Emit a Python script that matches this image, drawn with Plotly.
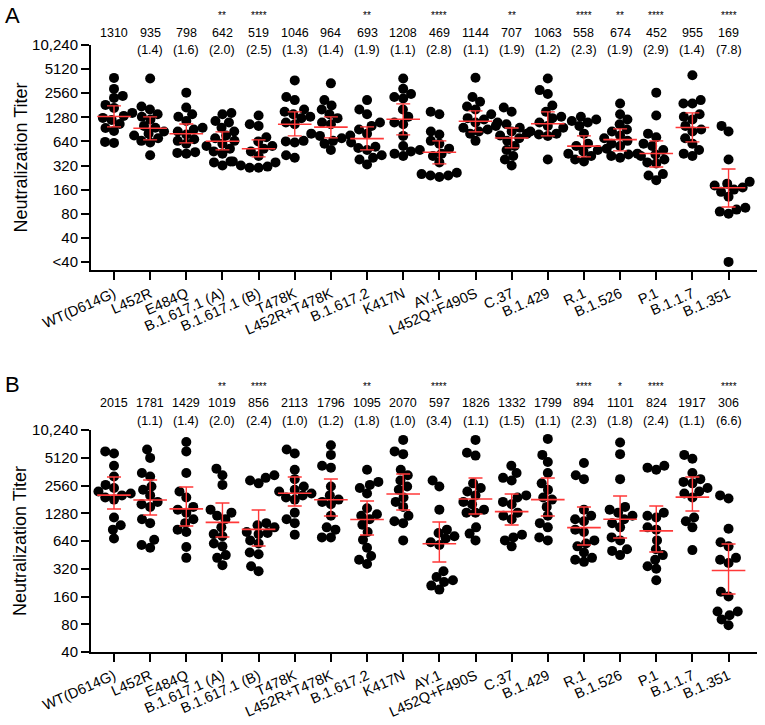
import numpy as np
import plotly.graph_objects as go

W, H = 765, 725

categories = ["WT(D614G)", "L452R", "E484Q", "B.1.617.1 (A)", "B.1.617.1 (B)", "T478K",
              "L452R+T478K", "B.1.617.2", "K417N", "AY.1", "L452Q+F490S", "C.37",
              "B.1.429", "R.1", "B.1.526", "P.1", "B.1.1.7", "B.1.351"]

# ---------------- Panel A ----------------
a_gmt = [1310, 935, 798, 642, 519, 1046, 964, 693, 1208, 469, 1144, 707, 1063, 558, 674, 452, 955, 169]
a_fold = ["", "(1.4)", "(1.6)", "(2.0)", "(2.5)", "(1.3)", "(1.4)", "(1.9)", "(1.1)", "(2.8)",
          "(1.1)", "(1.9)", "(1.2)", "(2.3)", "(1.9)", "(2.9)", "(1.4)", "(7.8)"]
a_sig = ["", "", "", "**", "****", "", "", "**", "", "****", "", "**", "", "****", "**", "****", "", "****"]
a_ci_lo = [971, 668, 613, 502, 410, 750, 708, 502, 772, 335, 841, 531, 750, 410, 487, 307, 631, 97]
a_ci_hi = [1777, 1296, 1058, 841, 668, 1495, 1296, 971, 1882, 649, 1539, 943, 1495, 750, 917, 649, 1453, 290]
a_points = [
    [3976, 2898, 2369, 2236, 1829, 1678, 1453, 1333, 1258, 1188, 1058, 943, 866, 631, 613],
    [3900, 1750, 1600, 1400, 1300, 1200, 1000, 950, 850, 800, 760, 700, 650, 620, 430],
    [2600, 1700, 1400, 1300, 1150, 950, 900, 850, 780, 680, 650, 600, 470, 460, 450],
    [1450, 1400, 1150, 1100, 950, 850, 760, 700, 650, 600, 560, 520, 480, 450, 360, 350, 320],
    [1350, 1050, 1000, 720, 640, 560, 520, 480, 420, 360, 350, 320, 310, 300, 300],
    [3700, 2300, 2100, 1600, 1500, 1400, 1300, 1250, 1100, 1050, 650, 640, 620, 430, 400],
    [3400, 2100, 1800, 1600, 1400, 1250, 1100, 1050, 800, 760, 750, 700, 650, 600, 500],
    [2100, 1600, 1400, 1100, 1000, 900, 800, 620, 550, 530, 500, 430, 400, 380, 330],
    [3900, 2900, 2500, 2300, 2200, 1600, 1300, 1100, 1050, 750, 560, 500, 480, 450, 420],
    [1500, 1400, 850, 780, 650, 600, 520, 450, 420, 350, 260, 250, 240, 240, 230],
    [4000, 2300, 2000, 1750, 1600, 1400, 1250, 1200, 1100, 1000, 950, 900, 850, 800, 650],
    [1700, 1500, 1100, 1050, 950, 850, 800, 760, 700, 650, 560, 500, 420, 380, 320],
    [3900, 2800, 2500, 1800, 1500, 1300, 1250, 1100, 1000, 950, 850, 800, 780, 750, 380],
    [1300, 1200, 1150, 1100, 1000, 800, 600, 560, 520, 500, 480, 450, 420, 380, 360],
    [1900, 1400, 1200, 1050, 900, 850, 760, 700, 650, 600, 560, 450, 440, 420, 400],
    [2600, 1350, 800, 720, 600, 560, 500, 440, 420, 380, 350, 340, 250, 240, 210],
    [4300, 2100, 1900, 1900, 1400, 1300, 1200, 1000, 900, 850, 700, 600, 500, 450, 420],
    [1000, 850, 380, 200, 190, 180, 170, 160, 150, 130, 95, 90, 85, 80, 20],
]
a_tickvals = [20, 40, 80, 160, 320, 640, 1280, 2560, 5120, 10240]
a_ticktext = ["<40", "40", "80", "160", "320", "640", "1280", "2560", "5120", "10,240"]

# ---------------- Panel B ----------------
b_gmt = [2015, 1781, 1429, 1019, 856, 2113, 1796, 1095, 2070, 597, 1826, 1332, 1799, 894, 1101, 824, 1917, 306]
b_fold = ["", "(1.1)", "(1.4)", "(2.0)", "(2.4)", "(1.0)", "(1.2)", "(1.8)", "(1.0)", "(3.4)",
          "(1.1)", "(1.5)", "(1.1)", "(2.3)", "(1.8)", "(2.4)", "(1.1)", "(6.6)"]
b_sig = ["", "", "", "**", "****", "", "", "**", "", "****", "", "", "", "****", "*", "****", "", "****"]
b_ci_lo = [1424, 1226, 931, 707, 565, 1535, 1195, 743, 1388, 379, 1256, 954, 1195, 579, 690, 486, 1354, 170]
b_ci_hi = [3165, 2937, 2466, 1653, 1388, 3165, 3011, 1738, 3411, 1029, 3088, 2071, 3088, 1496, 1970, 1535, 3165, 594]
b_points = [
    [6000, 5700, 4200, 3200, 2600, 2400, 2200, 2100, 2000, 1900, 1800, 1150, 950, 850, 680],
    [6300, 5100, 3500, 3200, 2500, 2300, 2000, 1700, 1600, 1500, 1100, 1000, 660, 580, 540],
    [7600, 6000, 3500, 2200, 1900, 1500, 1400, 1300, 1100, 1000, 850, 800, 550, 420],
    [3900, 3300, 2600, 1400, 1300, 1200, 1100, 900, 760, 720, 600, 560, 450, 420, 350],
    [3300, 3100, 2900, 2700, 1000, 950, 900, 800, 780, 760, 650, 600, 480, 460, 340, 300],
    [6300, 5700, 3800, 3000, 2500, 2300, 2200, 2100, 2000, 1900, 1800, 1300, 1100, 1000, 750],
    [7000, 5500, 4200, 4000, 2500, 2000, 1800, 1700, 1600, 1200, 900, 850, 700, 700],
    [3800, 2800, 2600, 2400, 2100, 1450, 1250, 1200, 1100, 960, 800, 660, 540, 440, 400, 360],
    [8000, 6000, 5600, 3800, 3300, 2900, 2500, 2300, 1900, 1700, 1500, 1200, 1050, 1000, 650],
    [2900, 2500, 1400, 850, 780, 720, 680, 620, 580, 300, 260, 240, 230, 210, 190],
    [8000, 5800, 5400, 2700, 2400, 2200, 2000, 1700, 1600, 1400, 1300, 1300, 900, 770, 650],
    [4200, 3500, 3100, 2900, 2000, 1900, 1700, 1600, 1300, 1200, 1100, 750, 700, 650, 560],
    [8200, 5500, 4600, 3500, 2700, 2300, 1900, 1800, 1500, 1200, 1000, 900, 700, 650],
    [4500, 3300, 3000, 1400, 1200, 1100, 1050, 850, 800, 650, 600, 560, 480, 420, 400, 380],
    [7500, 5600, 3000, 1500, 1400, 1300, 1200, 1100, 1000, 900, 700, 650, 520, 500, 450],
    [4200, 4000, 3800, 1300, 1200, 1150, 900, 850, 650, 520, 450, 400, 340, 320, 240],
    [5500, 5000, 3500, 3000, 2800, 2700, 2400, 2200, 2100, 1900, 1150, 1050, 900, 510],
    [2000, 1850, 870, 620, 560, 420, 400, 370, 180, 160, 110, 110, 100, 90, 78],
]
b_tickvals = [40, 80, 160, 320, 640, 1280, 2560, 5120, 10240]
b_ticktext = ["40", "80", "160", "320", "640", "1280", "2560", "5120", "10,240"]

# ---------------- layout geometry (pixels) ----------------
X_LEFT, X_RIGHT = 91, 757
CAT0_PX, CAT_STEP = 114, 36.15
A_TOP, A_BOT = 45, 270
B_TOP, B_BOT = 430, 652
a_range_vals = (15.85, 10240)
b_range_vals = (40, 10240)

x_r0 = (X_LEFT - CAT0_PX) / CAT_STEP
x_r1 = x_r0 + (X_RIGHT - X_LEFT) / CAT_STEP

FONT = "Liberation Sans, Arial, Helvetica, sans-serif"
RED = "#ff3838"


def swarm(vals, px_per_log2, d=9.0):
    ys = np.log2(np.asarray(vals, float)) * px_per_log2
    order = np.argsort(ys)
    placed = []
    offs = np.zeros(len(ys))
    for i in order:
        y = ys[i]
        cands = [0.0]
        for py, px in placed:
            dy = abs(y - py)
            if dy < d:
                dx = np.sqrt(d * d - dy * dy)
                cands += [px + dx, px - dx]
        cands.sort(key=lambda c: (abs(c), c))
        for c in cands:
            if all((c - px) ** 2 + (y - py) ** 2 >= d * d - 1e-6 for py, px in placed):
                offs[i] = c
                break
        placed.append((y, offs[i]))
    return offs / CAT_STEP


fig = go.Figure()


def add_panel(points, gmt, lo, hi, xa, ya, rng, top, bot):
    px_per_log2 = (bot - top) / np.log2(rng[1] / rng[0])
    xs, ys = [], []
    for i, vals in enumerate(points):
        off = swarm(vals, px_per_log2)
        xs += list(i + off)
        ys += list(vals)
    fig.add_trace(go.Scatter(x=xs, y=ys, mode="markers", xaxis=xa, yaxis=ya,
                             marker=dict(color="black", size=10, line=dict(width=0)),
                             cliponaxis=False, showlegend=False, hoverinfo="y"))
    idx = list(range(len(gmt)))
    fig.add_trace(go.Scatter(
        x=idx, y=gmt, mode="markers", xaxis=xa, yaxis=ya, showlegend=False,
        marker=dict(symbol="line-ew", size=24, color=RED, line=dict(color=RED, width=1.6)),
        error_y=dict(type="data", symmetric=False,
                     array=[h - g for h, g in zip(hi, gmt)],
                     arrayminus=[g - l for g, l in zip(gmt, lo)],
                     color=RED, thickness=1.4, width=7),
        cliponaxis=False))


add_panel(a_points, a_gmt, a_ci_lo, a_ci_hi, "x", "y", a_range_vals, A_TOP, A_BOT)
add_panel(b_points, b_gmt, b_ci_lo, b_ci_hi, "x2", "y2", b_range_vals, B_TOP, B_BOT)

xaxis_common = dict(
    range=[x_r0, x_r1], domain=[X_LEFT / W, X_RIGHT / W], showline=True, linecolor="black",
    linewidth=2, ticks="outside", ticklen=8, tickwidth=1.8, tickcolor="black",
    tickvals=list(range(len(categories))), ticktext=categories, tickangle=-24,
    tickfont=dict(family=FONT, size=14.5, color="black"), showgrid=False, zeroline=False,
    automargin=False)

yaxis_common = dict(
    type="log", showline=True, linecolor="black", linewidth=2, ticks="outside", ticklen=8,
    tickwidth=1.8, tickcolor="black", tickfont=dict(family=FONT, size=15, color="black"),
    showgrid=False, zeroline=False, automargin=False)

fig.update_layout(
    width=W, height=H, margin=dict(l=0, r=0, t=0, b=0),
    paper_bgcolor="white", plot_bgcolor="white",
    xaxis=dict(xaxis_common, anchor="y"),
    yaxis=dict(yaxis_common, anchor="x", domain=[1 - A_BOT / H, 1 - A_TOP / H],
               range=[np.log10(a_range_vals[0]), np.log10(a_range_vals[1])],
               tickvals=a_tickvals, ticktext=a_ticktext),
    xaxis2=dict(xaxis_common, anchor="y2"),
    yaxis2=dict(yaxis_common, anchor="x2", domain=[1 - B_BOT / H, 1 - B_TOP / H],
                range=[np.log10(b_range_vals[0]), np.log10(b_range_vals[1])],
                tickvals=b_tickvals, ticktext=b_ticktext),
    showlegend=False,
)

ann = []


def header(gmt, fold, sig, xref, y_sig, y_num, y_fold):
    for i in range(len(gmt)):
        if sig[i]:
            ann.append(dict(x=i, y=1 - y_sig / H, xref=xref, yref="paper", text=sig[i],
                            xanchor="center", yanchor="middle", showarrow=False,
                            font=dict(family=FONT, size=10, color="black")))
        ann.append(dict(x=i, y=1 - y_num / H, xref=xref, yref="paper", text=str(gmt[i]),
                        xanchor="center", yanchor="middle", showarrow=False,
                        font=dict(family=FONT, size=12.5, color="black")))
        if fold[i]:
            ann.append(dict(x=i, y=1 - y_fold / H, xref=xref, yref="paper", text=fold[i],
                            xanchor="center", yanchor="middle", showarrow=False,
                            font=dict(family=FONT, size=12.5, color="black")))


header(a_gmt, a_fold, a_sig, "x", 16, 33, 50)
header(b_gmt, b_fold, b_sig, "x2", 386, 403, 421)

for letter, ypx in (("A", 15), ("B", 385)):
    ann.append(dict(x=13 / W, y=1 - ypx / H, xref="paper", yref="paper", text=letter,
                    xanchor="center", yanchor="middle", showarrow=False,
                    font=dict(family=FONT, size=22, color="black")))

for ymid in ((A_TOP + A_BOT) / 2, (B_TOP + B_BOT) / 2):
    ann.append(dict(x=20 / W, y=1 - ymid / H, xref="paper", yref="paper",
                    text="Neutralization Titer", textangle=-90, showarrow=False,
                    xanchor="center", yanchor="middle",
                    font=dict(family=FONT, size=18, color="black")))

fig.update_layout(annotations=ann)
fig.write_html("out.html", config={"displayModeBar": False},
               post_script="document.body.style.margin='0';document.body.style.padding='0';")
